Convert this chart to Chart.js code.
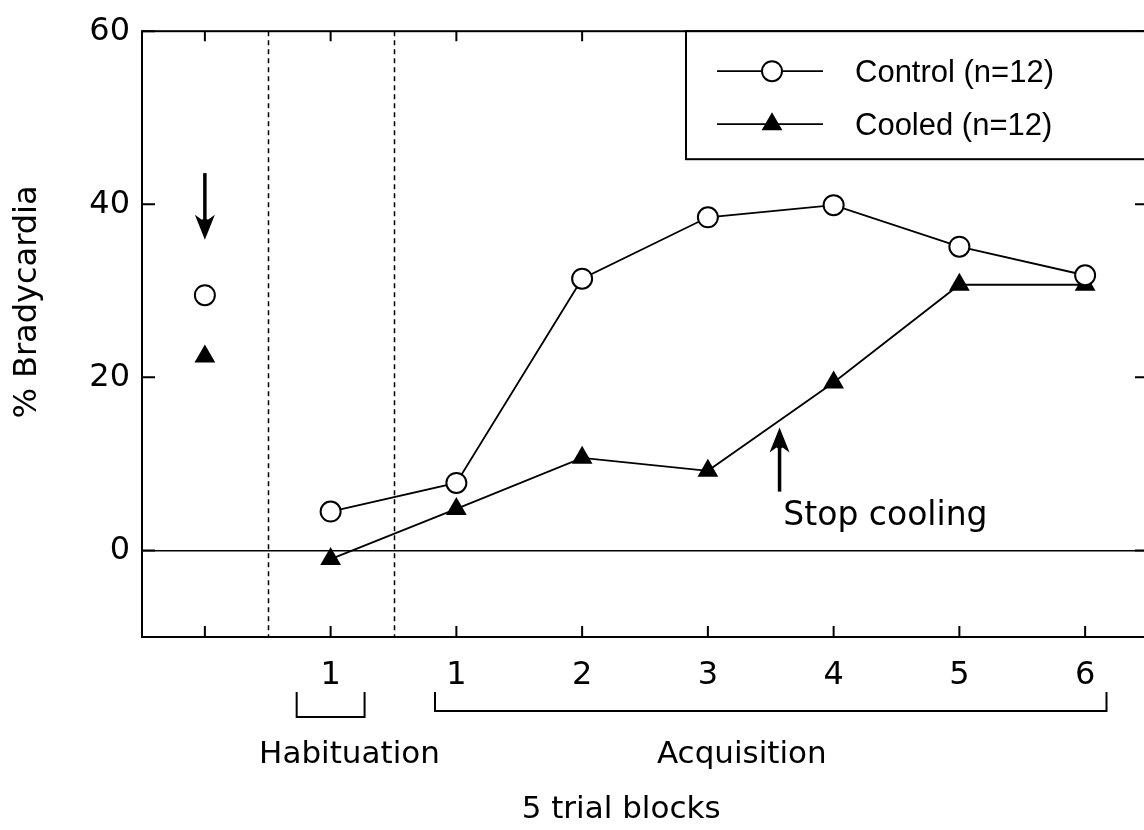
<!DOCTYPE html>
<html>
<head>
<meta charset="utf-8">
<script src="https://cdn.jsdelivr.net/npm/chart.js@4.4.1/dist/chart.umd.min.js"></script>
<style>
  html, body { margin: 0; padding: 0; background: #fff; overflow: hidden; }
  #wrap { width: 1160px; height: 830px; }
</style>
</head>
<body>
<div id="wrap"><canvas id="chart"></canvas></div>
<script>
// x positions: 0 = pre-training baseline, 1 = habituation block, 2..7 = acquisition blocks 1..6
const blockLabels = ['', '1', '1', '2', '3', '4', '5', '6'];
const controlPct = [29.5, 4.5, 7.8, 31.4, 38.5, 39.9, 35.1, 31.8];
const cooledPct  = [22.4, -1.0, 4.8, 10.7, 9.2, 19.4, 30.7, 30.7];
const yTicks = [0, 20, 40, 60];
const seriesNames = ['Control (n=12)', 'Cooled (n=12)'];

const FONT = 'DejaVu Sans';

function seg(ctx) {
  // baseline point stands alone, no line into habituation
  return ctx.p0DataIndex === 0 ? 'rgba(0,0,0,0)' : '#000';
}

function drawMarker(ctx, style, px, py) {
  ctx.save();
  ctx.lineWidth = 2;
  ctx.strokeStyle = '#000';
  ctx.beginPath();
  if (style === 'circle') {
    ctx.fillStyle = '#fff';
    ctx.arc(px, py, 10, 0, Math.PI * 2);
    ctx.fill();
    ctx.stroke();
  } else {
    ctx.fillStyle = '#000';
    const r = 12;
    ctx.moveTo(px, py - r);
    ctx.lineTo(px + r * 0.866, py + r / 2);
    ctx.lineTo(px - r * 0.866, py + r / 2);
    ctx.closePath();
    ctx.fill();
  }
  ctx.restore();
}

function arrow(ctx, x, yFrom, yTo) {
  const dir = yTo > yFrom ? 1 : -1;
  ctx.lineWidth = 3.5;
  ctx.beginPath();
  ctx.moveTo(x, yFrom);
  ctx.lineTo(x, yTo - dir * 14);
  ctx.stroke();
  ctx.beginPath();
  ctx.moveTo(x, yTo);
  ctx.lineTo(x - 10, yTo - dir * 25);
  ctx.lineTo(x - 3, yTo - dir * 20);
  ctx.lineTo(x, yTo - dir * 22);
  ctx.lineTo(x + 3, yTo - dir * 20);
  ctx.lineTo(x + 10, yTo - dir * 25);
  ctx.closePath();
  ctx.fill();
}

const decor = {
  id: 'decor',
  beforeDatasetsDraw(chart) {
    const { ctx, chartArea: a, scales: { x, y } } = chart;
    ctx.save();
    ctx.strokeStyle = '#000';
    // phase dividers
    ctx.lineWidth = 1.5;
    ctx.setLineDash([5, 4]);
    [0.5, 1.5].forEach(v => {
      const px = Math.round(x.getPixelForValue(v)) + 0.5;
      ctx.beginPath();
      ctx.moveTo(px, a.top);
      ctx.lineTo(px, a.bottom);
      ctx.stroke();
    });
    ctx.setLineDash([]);
    // frame
    ctx.lineWidth = 2;
    ctx.strokeRect(a.left, a.top, a.right - a.left, a.bottom - a.top);
    // inward ticks
    ctx.beginPath();
    x.ticks.forEach(t => {
      const px = x.getPixelForValue(t.value);
      ctx.moveTo(px, a.bottom); ctx.lineTo(px, a.bottom - 11);
      ctx.moveTo(px, a.top); ctx.lineTo(px, a.top + 10);
    });
    y.ticks.forEach(t => {
      const py = y.getPixelForValue(t.value);
      ctx.moveTo(a.left, py); ctx.lineTo(a.left + 13, py);
      ctx.moveTo(a.right, py); ctx.lineTo(a.right - 13, py);
    });
    ctx.stroke();
    ctx.restore();
  },
  afterDraw(chart) {
    const { ctx, chartArea: a, scales: { x, y } } = chart;
    ctx.save();
    ctx.strokeStyle = '#000';
    ctx.fillStyle = '#000';

    // legend box
    const lx = a.left + 544, ly = a.top;
    ctx.fillStyle = '#fff';
    ctx.fillRect(lx, ly, a.right - lx + 10, 128);
    ctx.lineWidth = 2;
    ctx.strokeRect(lx, ly, a.right - lx + 10, 128);
    ctx.font = '31px "Liberation Sans"';
    ctx.textBaseline = 'middle';
    ctx.textAlign = 'left';
    chart.data.datasets.forEach((ds, i) => {
      const rowY = ly + 40 + i * 53;
      ctx.lineWidth = 1.8;
      ctx.beginPath();
      ctx.moveTo(lx + 31, rowY);
      ctx.lineTo(lx + 137, rowY);
      ctx.stroke();
      drawMarker(ctx, ds.pointStyle, lx + 86, rowY);
      ctx.fillStyle = '#000';
      ctx.fillText(ds.label, lx + 169, rowY + 2);
    });

    // arrows
    arrow(ctx, x.getPixelForValue(0), y.getPixelForValue(43.6), y.getPixelForValue(35.9));
    arrow(ctx, x.getPixelForValue(4.57), y.getPixelForValue(6.8), y.getPixelForValue(14.2));
    ctx.font = '33px ' + FONT;
    ctx.textAlign = 'left';
    ctx.fillText('Stop cooling', x.getPixelForValue(4.6), y.getPixelForValue(3.9));

    // brackets under the axis
    ctx.lineWidth = 2;
    const b = a.bottom;
    const h0 = x.getPixelForValue(0.73), h1 = x.getPixelForValue(1.27);
    ctx.beginPath();
    ctx.moveTo(h0, b + 55); ctx.lineTo(h0, b + 80); ctx.lineTo(h1, b + 80); ctx.lineTo(h1, b + 55);
    const q0 = x.getPixelForValue(1.83), q1 = x.getPixelForValue(7.17);
    ctx.moveTo(q0, b + 55); ctx.lineTo(q0, b + 74); ctx.lineTo(q1, b + 74); ctx.lineTo(q1, b + 55);
    ctx.stroke();

    ctx.font = '31px ' + FONT;
    ctx.textAlign = 'center';
    ctx.fillText('Habituation', x.getPixelForValue(1.15), b + 118);
    ctx.fillText('Acquisition', x.getPixelForValue(4.27), b + 118);
    ctx.fillText('5 trial blocks', x.getPixelForValue(3.31), b + 173);

    // y title
    ctx.translate(28, 302);
    ctx.rotate(-Math.PI / 2);
    ctx.font = '32px ' + FONT;
    ctx.fillText('% Bradycardia', 0, 0);
    ctx.restore();
  }
};

new Chart(document.getElementById('chart'), {
  type: 'line',
  data: {
    datasets: [
      {
        label: seriesNames[0],
        data: controlPct.map((v, i) => ({ x: i, y: v })),
        borderColor: '#000',
        borderWidth: 1.8,
        pointStyle: 'circle',
        pointRadius: 10,
        pointBorderWidth: 2,
        pointBackgroundColor: '#fff',
        pointBorderColor: '#000',
        segment: { borderColor: seg },
        order: 1
      },
      {
        label: seriesNames[1],
        data: cooledPct.map((v, i) => ({ x: i, y: v })),
        borderColor: '#000',
        borderWidth: 1.8,
        pointStyle: 'triangle',
        pointRadius: 12,
        pointBorderWidth: 0,
        pointBackgroundColor: '#000',
        pointBorderColor: '#000',
        segment: { borderColor: seg },
        order: 2
      }
    ]
  },
  options: {
    responsive: true,
    maintainAspectRatio: false,
    animation: false,
    layout: { padding: { top: 31, right: 10, left: 0, bottom: 0 } },
    plugins: { legend: { display: false }, tooltip: { enabled: false } },
    scales: {
      x: {
        type: 'linear',
        min: -0.5,
        max: 7.5,
        afterBuildTicks: s => { s.ticks = blockLabels.map((_, i) => ({ value: i })); },
        afterFit: s => { s.height = 193; },
        grid: { display: false, drawTicks: false },
        border: { display: false },
        ticks: {
          autoSkip: false,
          maxRotation: 0,
          padding: 19,
          color: '#000',
          font: { family: FONT, size: 32 },
          callback: v => blockLabels[v]
        }
      },
      y: {
        min: -10,
        max: 60,
        afterBuildTicks: s => { s.ticks = yTicks.map(v => ({ value: v })); },
        afterFit: s => { s.width = 142; },
        grid: {
          drawTicks: false,
          lineWidth: 1.5,
          color: c => (c.tick && c.tick.value === 0 ? '#000' : 'rgba(0,0,0,0)')
        },
        border: { display: false },
        ticks: {
          padding: 12,
          color: '#000',
          font: { family: FONT, size: 32 }
        }
      }
    }
  },
  plugins: [decor]
});
</script>
</body>
</html>
